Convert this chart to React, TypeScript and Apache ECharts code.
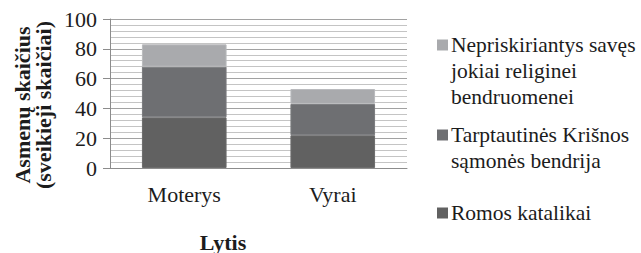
import React, { useEffect, useRef } from "react";
import * as echarts from "echarts";

const categories = ["Moterys", "Vyrai"];
const romosKatalikai = [34, 22];
const krisnos = [34, 21];
const nepriskiriantys = [15, 10];
const seriesNames = [
  "Romos katalikai",
  "Tarptautinės Krišnos\nsąmonės bendrija",
  "Nepriskiriantys savęs\njokiai religinei\nbendruomenei",
];
const yTicks = { min: 0, max: 100, interval: 20 };
const yTitle = "Asmenų skaičius\n(sveikieji skaičiai)";
const xTitle = "Lytis";

const FONT = "Liberation Serif";
const TXT = "#1c1c1c";

export default function App() {
  const ref = useRef<HTMLDivElement>(null);
  useEffect(() => {
    if (!ref.current) return;
    const chart = echarts.init(ref.current, undefined, { renderer: "svg" });
    const colors = ["#616161", "#6e6f72", "#a9aaad"];
    const borders = ["#6c6c6c", "#7a7b7e", "#b9babd"];
    const LH = 26;
    const legendIconCenter = [213, 135, 45];
    const legendGraphics: any[] = [];
    seriesNames.forEach((n, i) => {
      const cy = legendIconCenter[i];
      legendGraphics.push({
        type: "rect",
        shape: { x: 437, y: cy - 5.5, width: 11, height: 11 },
        style: { fill: colors[i] },
      });
      legendGraphics.push({
        type: "text",
        x: 451,
        y: cy - LH / 2,
        style: {
          text: n,
          fontFamily: FONT,
          fontSize: 21.5,
          fill: TXT,
          lineHeight: LH,
          align: "left",
          verticalAlign: "top",
        },
      });
    });
    chart.setOption({
      animation: false,
      backgroundColor: "#ffffff",
      grid: { left: 110, right: 234, top: 19, bottom: 85 },
      xAxis: {
        type: "category",
        data: categories,
        axisLine: { show: true, lineStyle: { color: "#8c8c8c", width: 1 } },
        axisTick: { show: false },
        axisLabel: {
          margin: 15,
          fontFamily: FONT,
          fontSize: 22,
          color: TXT,
        },
      },
      yAxis: {
        type: "value",
        min: yTicks.min,
        max: yTicks.max,
        interval: yTicks.interval,
        axisLine: { show: true, lineStyle: { color: "#8c8c8c", width: 1 } },
        axisTick: { show: true, length: 7, inside: false, lineStyle: { color: "#8c8c8c" } },
        axisLabel: {
          margin: 13,
          fontFamily: FONT,
          fontSize: 22,
          color: TXT,
        },
        splitLine: { show: true, lineStyle: { color: "#a2a2a2", width: 1 } },
        minorTick: { show: false, splitNumber: 5 },
        minorSplitLine: { show: true, lineStyle: { color: "#c4c4c4", width: 1 } },
      },
      graphic: [
        ...legendGraphics,
        {
          type: "text",
          x: 33,
          y: 105,
          rotation: Math.PI / 2,
          style: {
            text: yTitle,
            fontFamily: FONT,
            fontSize: 22,
            fontWeight: "bold",
            fill: TXT,
            align: "center",
            verticalAlign: "middle",
            lineHeight: 21,
          },
        },
        {
          type: "text",
          x: 223,
          y: 242,
          style: {
            text: xTitle,
            fontFamily: FONT,
            fontSize: 22,
            fontWeight: "bold",
            fill: TXT,
            align: "center",
            verticalAlign: "middle",
          },
        },
      ],
      series: [romosKatalikai, krisnos, nepriskiriantys].map((d, i) => ({
        name: seriesNames[i],
        type: "bar",
        stack: "total",
        data: d,
        barWidth: "57%",
        itemStyle: { color: colors[i], borderColor: borders[i], borderWidth: 1 },
      })),
    });
    return () => chart.dispose();
  }, []);
  return <div ref={ref} style={{ width: 641, height: 253, position: "absolute", left: 0, top: 0 }} />;
}
